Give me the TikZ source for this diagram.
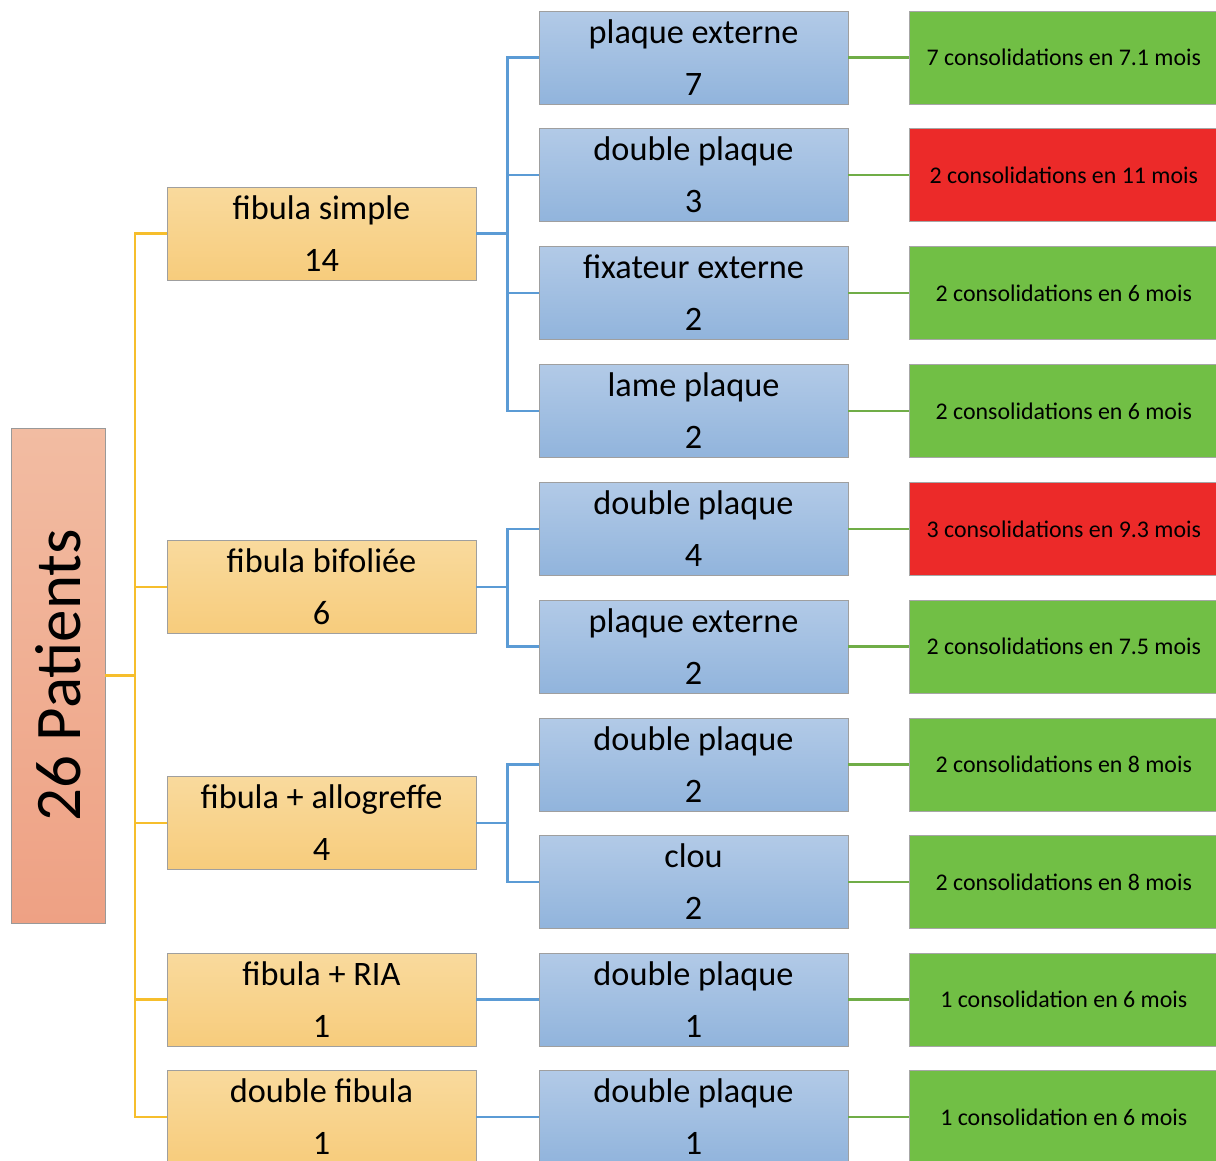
\documentclass[tikz,border=0pt]{standalone}
\usepackage{fontspec}
\setmainfont{Carlito}
\usepackage{graphicx}
\usepackage{xcolor}
\usepackage{tikz}
\usetikzlibrary{positioning}

\definecolor{roottop}{HTML}{F2BCA2}
\definecolor{rootbot}{HTML}{EEA184}
\definecolor{fibtop}{HTML}{F9DA9D}
\definecolor{fibbot}{HTML}{F7CC7C}
\definecolor{platetop}{HTML}{B2CAE7}
\definecolor{platebot}{HTML}{91B4DC}
\definecolor{okgreen}{HTML}{71BF45}
\definecolor{badred}{HTML}{EC2A29}
\definecolor{yellowlink}{HTML}{F6BE2C}
\definecolor{bluelink}{HTML}{5B9BD5}
\definecolor{greenlink}{HTML}{70AD47}

\begin{document}
\begin{tikzpicture}[x=0.02cm, y=-0.02cm,
    lvlbox/.style={draw=gray!75, line width=0.5pt, minimum width=6.18cm,
        minimum height=1.86cm, inner sep=0pt, align=center,
        font=\fontsize{19.5}{29.6}\selectfont},
    fibbox/.style={lvlbox, top color=fibtop, bottom color=fibbot},
    platebox/.style={lvlbox, top color=platetop, bottom color=platebot},
    resbox/.style={draw=gray!70, line width=0.5pt, minimum width=6.16cm,
        minimum height=1.86cm, inner sep=0pt,
        font=\fontsize{13.6}{16}\selectfont, right=1.22cm of #1},
    okbox/.style={resbox=#1, fill=okgreen},
    badbox/.style={resbox=#1, fill=badred},
    yellowline/.style={draw=yellowlink, line width=1.6pt},
    blueline/.style={draw=bluelink, line width=1.6pt},
    greenline/.style={draw=greenlink, line width=1.6pt}]
    \useasboundingbox (0,0) rectangle (1216,1160);

    % root
    \node[draw=gray!80, line width=0.5pt, minimum width=1.88cm, minimum height=9.9cm,
        inner sep=0pt, top color=roottop, bottom color=rootbot,
        font=\fontsize{37}{40}\selectfont] (patients) at (58,675.5)
        {\rotatebox{90}{26 Patients}};

    % type of fibula
    \node[fibbox] (simple) at (321.5,233.5) {fibula simple\\14};
    \node[fibbox] (bifol) at (321.5,587) {fibula bifoliée\\6};
    \node[fibbox] (allo) at (321.5,823) {fibula + allogreffe\\4};
    \node[fibbox] (ria) at (321.5,999.5) {fibula + RIA\\1};
    \node[fibbox] (dfib) at (321.5,1117) {double fibula\\1};

    % fixation
    \node[platebox] (pext1) at (693.5,57.5) {plaque externe\\7};
    \node[platebox] (dpl1) at (693.5,175) {double plaque\\3};
    \node[platebox] (fixext) at (693.5,293) {fixateur externe\\2};
    \node[platebox] (lame) at (693.5,411) {lame plaque\\2};
    \node[platebox] (dpl2) at (693.5,529) {double plaque\\4};
    \node[platebox] (pext2) at (693.5,646.5) {plaque externe\\2};
    \node[platebox] (dpl3) at (693.5,764.5) {double plaque\\2};
    \node[platebox] (clou) at (693.5,882) {clou\\2};
    \node[platebox] (dpl4) at (693.5,999.5) {double plaque\\1};
    \node[platebox] (dpl5) at (693.5,1117) {double plaque\\1};

    % consolidation
    \node[okbox=pext1] (res1) {7 consolidations en 7.1 mois};
    \node[badbox=dpl1] (res2) {2 consolidations en 11 mois};
    \node[okbox=fixext] (res3) {2 consolidations en 6 mois};
    \node[okbox=lame] (res4) {2 consolidations en 6 mois};
    \node[badbox=dpl2] (res5) {3 consolidations en 9.3 mois};
    \node[okbox=pext2] (res6) {2 consolidations en 7.5 mois};
    \node[okbox=dpl3] (res7) {2 consolidations en 8 mois};
    \node[okbox=clou] (res8) {2 consolidations en 8 mois};
    \node[okbox=dpl4] (res9) {1 consolidation en 6 mois};
    \node[okbox=dpl5] (res10) {1 consolidation en 6 mois};

    % links
    \coordinate (trunk) at (135,675.5);
    \draw[yellowline] (patients.east) -- (trunk);
    \foreach \f in {simple,bifol,allo,ria,dfib}
        \draw[yellowline] (trunk) |- (\f.west);

    \foreach \f/\p in {simple/pext1,simple/dpl1,simple/fixext,simple/lame,
        bifol/dpl2,bifol/pext2,allo/dpl3,allo/clou,ria/dpl4,dfib/dpl5}
        \draw[blueline] (\f.east) -- ++(31,0) |- (\p.west);

    \foreach \p/\r in {pext1/res1,dpl1/res2,fixext/res3,lame/res4,dpl2/res5,
        pext2/res6,dpl3/res7,clou/res8,dpl4/res9,dpl5/res10}
        \draw[greenline] (\p.east) -- (\r.west);
\end{tikzpicture}
\end{document}
